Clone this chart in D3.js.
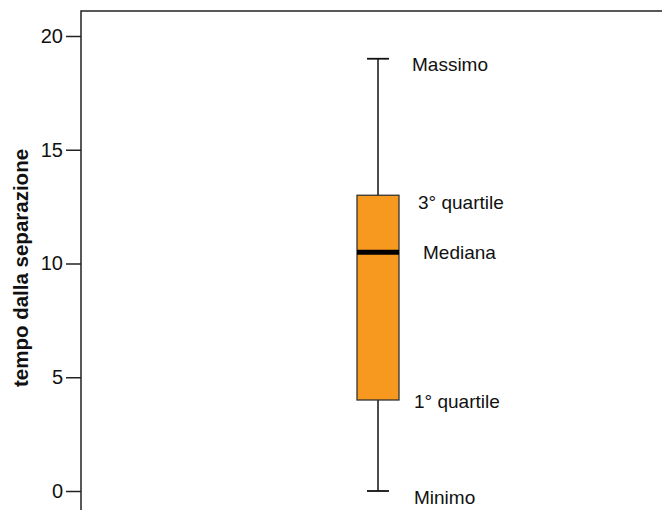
<!DOCTYPE html>
<html>
<head>
<meta charset="utf-8">
<script src="https://cdn.jsdelivr.net/npm/d3@7"></script>
<style>
  body { margin: 0; background: #fff; }
  text { font-family: "Liberation Sans", Arial, sans-serif; }
</style>
</head>
<body>
<div id="chart"></div>
<script>
// data
const groups = ["gruppo"];
const minimo = [0];
const q1 = [4];
const mediana = [10.5];
const q3 = [13];
const massimo = [19];
const yTicks = [0, 5, 10, 15, 20];
const labelNames = ["Massimo", "3° quartile", "Mediana", "1° quartile", "Minimo"];
const labelValues = [massimo[0], q3[0], mediana[0], q1[0], minimo[0]];

const width = 662, height = 510;
const margin = {top: 11, left: 81};

const svg = d3.select("#chart")
  .append("svg")
    .attr("width", width)
    .attr("height", height);

// scales
const y = d3.scaleLinear()
  .domain([0, 20])
  .range([491, 36]);

const x = d3.scaleBand()
  .domain(groups)
  .range([margin.left, 675])
  .paddingInner(0)
  .paddingOuter(6.6);

// frame (top + left), runs off the picture at right and bottom
svg.append("path")
  .attr("d", `M${margin.left},${height + 5} V${margin.top} H${width + 5}`)
  .attr("fill", "none")
  .attr("stroke", "#222")
  .attr("stroke-width", 1.5);

// y axis
const yAxis = svg.append("g")
  .attr("transform", `translate(${margin.left},0)`)
  .call(d3.axisLeft(y).tickValues(yTicks).tickSize(15).tickPadding(3));
yAxis.select(".domain").remove();
yAxis.selectAll(".tick line").attr("stroke", "#222").attr("stroke-width", 1.5);
yAxis.selectAll(".tick text")
  .attr("fill", "#111")
  .style("font-size", "20px")
  .style("font-family", "'Liberation Sans', Arial, sans-serif");

svg.append("text")
  .attr("transform", `translate(28, 268) rotate(-90)`)
  .attr("text-anchor", "middle")
  .style("font-size", "20.5px")
  .style("font-weight", "bold")
  .attr("fill", "#111")
  .text("tempo dalla separazione");

// boxplot
const bw = 42, capW = 22;
groups.forEach((g, i) => {
  const cx = x(g) + x.bandwidth() / 2;
  const box = svg.append("g");

  // whisker
  box.append("line")
    .attr("x1", cx).attr("x2", cx)
    .attr("y1", y(minimo[i])).attr("y2", y(massimo[i]))
    .attr("stroke", "#111").attr("stroke-width", 1.5);
  [minimo[i], massimo[i]].forEach(v => {
    box.append("line")
      .attr("x1", cx - capW / 2).attr("x2", cx + capW / 2)
      .attr("y1", y(v)).attr("y2", y(v))
      .attr("stroke", "#111").attr("stroke-width", 1.8);
  });

  box.append("rect")
    .attr("x", cx - bw / 2)
    .attr("y", y(q3[i]))
    .attr("width", bw)
    .attr("height", y(q1[i]) - y(q3[i]))
    .attr("fill", "#F8991F")
    .attr("stroke", "#333")
    .attr("stroke-width", 1.3);

  box.append("line")
    .attr("x1", cx - bw / 2).attr("x2", cx + bw / 2)
    .attr("y1", y(mediana[i])).attr("y2", y(mediana[i]))
    .attr("stroke", "#000").attr("stroke-width", 5);
});

// annotation labels
const labelDx = [34, 40, 45, 36, 36];
const labelDy = [6, 7, 0, 1, 6];
const cx0 = x(groups[0]) + x.bandwidth() / 2;
svg.selectAll(".lab")
  .data(labelNames)
  .join("text")
    .attr("class", "lab")
    .attr("x", (d, i) => cx0 + labelDx[i])
    .attr("y", (d, i) => y(labelValues[i]) + labelDy[i])
    .attr("dy", "0.35em")
    .attr("fill", "#111")
    .style("font-size", "19px")
    .text(d => d);
</script>
</body>
</html>
